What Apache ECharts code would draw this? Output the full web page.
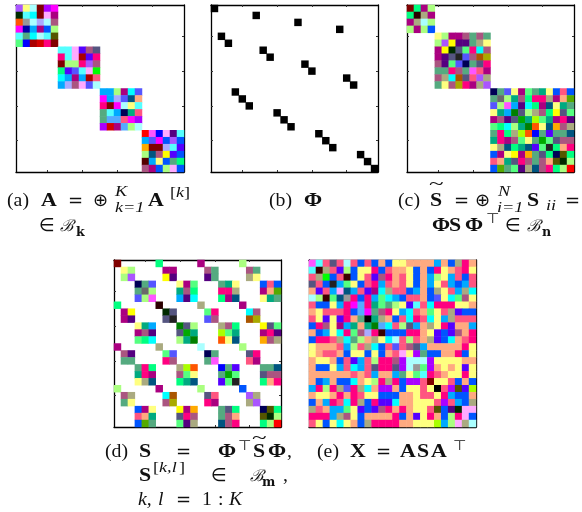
<!DOCTYPE html>
<html><head><meta charset="utf-8">
<style>html,body{margin:0;padding:0;background:#fff}#c{width:582px;height:512px}</style>
<script src="https://cdn.jsdelivr.net/npm/echarts@6/dist/echarts.min.js"></script></head>
<body><div id="c"></div>
<script>
const paletteCodes = {K:'#000000',m:'#800000',r:'#ff0000',R:'#d50000',d:'#aa0000','4':'#3a0000','5':'#550000','6':'#2b0000',g:'#002b00','2':'#222222','3':'#6a6a6a',G:'#999999',
p:'#aa55ff',y:'#ffff80',c:'#aaffff',v:'#aa00ff',M:'#ff00ff',C:'#55ffff',A:'#00ffff',P:'#ffaaff',e:'#aa0080',o:'#ff5500',l:'#aaaaff',n:'#aa5580',N:'#0000aa',s:'#00aaff',b:'#0055ff',h:'#aaff80',t:'#55aa80',f:'#555500',q:'#55ff80',B:'#0000ff',H:'#ff0080',i:'#5500ff',u:'#555580',j:'#5555ff',x:'#00ff00',E:'#00ff80',D:'#ff5580',O:'#ffaa00',w:'#ffaa80',T:'#00aa80',Y:'#ffff00',k:'#000055',U:'#005580',I:'#550080',L:'#aaaa80',Z:'#aa5500',Q:'#aaaa00',J:'#007f00',S:'#00aa00',V:'#aaff00',W:'#55aa00',z:'#ff55ff',a:'#55aaff'};

const matrixA = [
"pycmvM..................","gCAmPe..................","oGclcn..................","MNsebh..................","CtAcCf..................","qBdRHm..................",
"......CCPinu............","......HCPdiH............","......mhhHpn............","......EijCPx............","......AsesdD............","......slnPjc............",
"............ssheAj......","............MsljUw......","............HmMcyC......","............tCskTD......","............taaDMv......","............vReahc......",
"..................rzBPIC","..................sjMbpb","..................OmmlCi","..................hUnYib","..................5sybtE","..................nebhPb"];

const phiColumns = [0,6,12,18,1,2,7,8,13,14,19,20,3,4,5,9,10,11,15,16,17,21,22,23];

const matrixC = [
"mEeh....................","E6Le....................","eLch....................","hehb....................",
"....yheentnt............","....hpYIItLy............","....eYguqHAn............","....eIu2jnZQ............","....nIqjktuH............","....ttHntzDe............","....nLAZuDpL............","....tynQHeLp............",
"............ktjyeqtTybDb","............t3hTnEHHLewW","............jhzsIAEeUyTt","............yTsJuhLnEYuq","............enIuSTVqTeHI","............qEAhTJoyUOnL","............tHELVoBtittU","............THenqytSqunn","............yLUETUiq2EwH","............beyYeOtuEkfE","............DwTuHntnwfgh","............bWtqILUnHEhr"];

const matrixD = [
"m.....E.....e.....h.....",".yh....ee....nt....nt...",".hp....YI....It....Ly...","...ktj...yeq...tTy...bDb","...t3h...TnE...HHL...ewW","...jhz...sIA...EeU...yTt",
"E.....6.....L.....e.....",".eY....gu....qH....An...",".eI....u2....jn....ZQ...","...yTs...Juh...LnE...Yuq","...enI...uST...VqT...eHI","...qEA...hTJ...oyU...OnL",
"e.....L.....c.....h.....",".nI....qj....kt....uH...",".tt....Hn....tz....De...","...tHE...LVo...Bti...ttU","...THe...nqy...tSq...unn","...yLU...ETU...iq2...EwH",
"h.....e.....h.....b.....",".nL....AZ....uD....pL...",".ty....nQ....He....Lp...","...bey...YeO...tuE...kfE","...DwT...uHn...tnw...fgh","...bWt...qIL...UnH...Ehr"];

const matrixE = [
"zCDuDcDbDbwbyywwwwswbLHw","C4LDihbyyHbDwwybwbHywDHy","DLxbD4byDinHwDybwshysDbD","uDb2sqybDHsDwDybwsyDsbsD","wiDsPUsDieALDDbswbLyDsLA","ch4qUGHbHsqAsbDDwbjyAqny",
"DbbysHMaHTqthyiCDAHHHyyw","wyDDDHbaMtnHysADwqyDLibb","DyiyiHwtKTLwbDAHDAysLDDD","bHnyesTwTJaADhuswLyHiwws","wbsyAHqnlH4bbbHHwyibinwH","bHHDLAthwLyAcDhDwLibAwDH",
"ywwwDshDLAbDjDnuswwwwwHy","ywDDwbyybybwDPyvtbbwwHby","wyywbDisDhHHnvcccvyyyyww","wbbysDAsDuHHuvcGqvwywyiy","wwwwwwDwDswwstyqCHDwyyHy","wbswbbAwyhHLHbvvDmyyDbwb",
"sHhHLjHLAwvvwbyyDyKDvfiV","wyywHwHDyybbbwwyDDyHsbbw","bwsHDAHLbHiiAwwyyyDvDsbL","LDwssqyibinHwHwyyDfbIgPP","HHHsLnybwwwwHbwiyHwbhHPb","DybyAywbLHHHHwwyyyVshPLc"];

const indexLabels = Array.from({length:24},(_, i)=>String(i+1));
const tickLabels = ['5','10','15','20'];

function stringCells(rows){
  const out=[];
  rows.forEach((row,r)=>{[...row].forEach((ch,c)=>{ if(ch!=='.') out.push([c,r,ch]); });});
  return out;
}
const panels = [
 {left:16,  top:5,   w:168, cells:stringCells(matrixA)},
 {left:211, top:5,   w:167, cells:phiColumns.map((c,r)=>[c,r,'K'])},
 {left:407, top:5,   w:167, cells:stringCells(matrixC)},
 {left:114, top:260, w:167, cells:stringCells(matrixD)},
 {left:309, top:260, w:167, cells:stringCells(matrixE)}
];

const SERIF='"Liberation Serif",serif';
const styles = {
  rm:{font:'18px '+SERIF,sx:1.1,size:18},
  bf:{font:'bold 18.5px '+SERIF,sx:1.18,size:18.5},
  sub:{font:'italic 14px '+SERIF,sx:1.3,size:14},
  br:{font:'14px '+SERIF,sx:1.3,size:14},
  it:{font:'italic 18px '+SERIF,sx:1.1,size:18},
  op:{font:'18px "DejaVu Sans"',sx:1,size:18},
  til:{font:'18px '+SERIF,sx:1.5,size:18},
  cal:{font:'italic 16px "DejaVu Serif"',sx:1,size:16},
  subb:{font:'bold 12px "DejaVu Serif"',sx:1.05,size:12},
  top:{font:'14px "DejaVu Sans"',sx:1.1,size:14}
};
const captionA=[["(a)",7,207,'rm'],["A",41,207,'bf'],["=",68,207,'op'],["⊕",93,207,'op'],["K",115,197,'sub'],["k=1",115,213,'sub'],["A",148,207,'bf'],["[",170,198,'br'],["k",176,198,'sub'],["]",184,198,'br'],["∈",39,232,'op'],["ℬ",60,232,'cal'],["k",76,236,'subb']];
const captionB=[["(b)",269,207,'rm'],["Φ",304,207,'bf']];
const captionC=[["(c)",398,207,'rm'],["S",430,207,'bf'],["~",429,191,'til'],["=",454,207,'op'],["⊕",475,207,'op'],["N",498,197,'sub'],["i=1",497,213,'sub'],["S",527,207,'bf'],["ii",546,211,'sub'],["=",565,207,'op'],
 ["Φ",432,232,'bf'],["S",449,232,'bf'],["Φ",465,232,'bf'],["⊤",486,224,'top'],["∈",505,232,'op'],["ℬ",527,232,'cal'],["n",542,236,'subb']];
const captionD=[["(d)",105,458,'rm'],["S",139,458,'bf'],["=",176,458,'op'],["Φ",218,458,'bf'],["⊤",238,451,'top'],["S",253,458,'bf'],["~",252,445,'til'],["Φ",268,458,'bf'],[",",287,458,'rm'],
 ["S",139,482,'bf'],["[",153,473,'br'],["k,l",159,473,'sub'],["]",179,473,'br'],["∈",211,482,'op'],["ℬ",250,482,'cal'],["m",262,486,'subb'],[",",283,482,'rm'],
 ["k,",138,506,'it'],["l",158,506,'it'],["=",176,506,'op'],["1",202,506,'rm'],[":",218,506,'rm'],["K",229,506,'it']];
const captionE=[["(e)",317,458,'rm'],["X",350,458,'bf'],["=",376,458,'op'],["A",400,458,'bf'],["S",417,458,'bf'],["A",431,458,'bf'],["⊤",453,451,'top']];

function caption(list){
  return list.map(([text,x,y,st])=>{
    const s=styles[st];
    return {type:'text',x,y:y-0.3*s.size,scaleX:s.sx,z:10,style:{text,font:s.font,fill:'#111',verticalAlign:'middle',align:'left'}};
  });
}

const grids=[],xAxes=[],yAxes=[],series=[];
const axisCommon=(extra)=>Object.assign({type:'category',data:indexLabels,boundaryGap:true,
  axisLabel:{show:false},splitLine:{show:false},
  axisLine:{show:true,onZero:false,lineStyle:{color:'#000',width:1.3}},
  axisTick:{show:true,inside:true,length:2,alignWithLabel:true,interval:(i,v)=>tickLabels.includes(v),lineStyle:{color:'#333',width:1}}},extra);
panels.forEach((p,k)=>{
  grids.push({left:p.left,top:p.top,width:p.w,height:167,containLabel:false});
  xAxes.push(axisCommon({gridIndex:k,position:'bottom'}),axisCommon({gridIndex:k,position:'top'}));
  yAxes.push(axisCommon({gridIndex:k,position:'left',inverse:true}),axisCommon({gridIndex:k,position:'right',inverse:true}));
  series.push({type:'heatmap',xAxisIndex:2*k,yAxisIndex:2*k,data:p.cells.map(d=>({value:[d[0],d[1],1],code:d[2]})),
    itemStyle:{color:ps=>paletteCodes[ps.data.code]},progressive:0,animation:false,emphasis:{disabled:true}});
});
const chart=echarts.init(document.getElementById('c'),null,{renderer:'canvas'});
chart.setOption({animation:false,backgroundColor:'#fff',grid:grids,xAxis:xAxes,yAxis:yAxes,series,tooltip:{show:false},
  graphic:{elements:[...caption(captionA),...caption(captionB),...caption(captionC),...caption(captionD),...caption(captionE)]}});
</script></body></html>
